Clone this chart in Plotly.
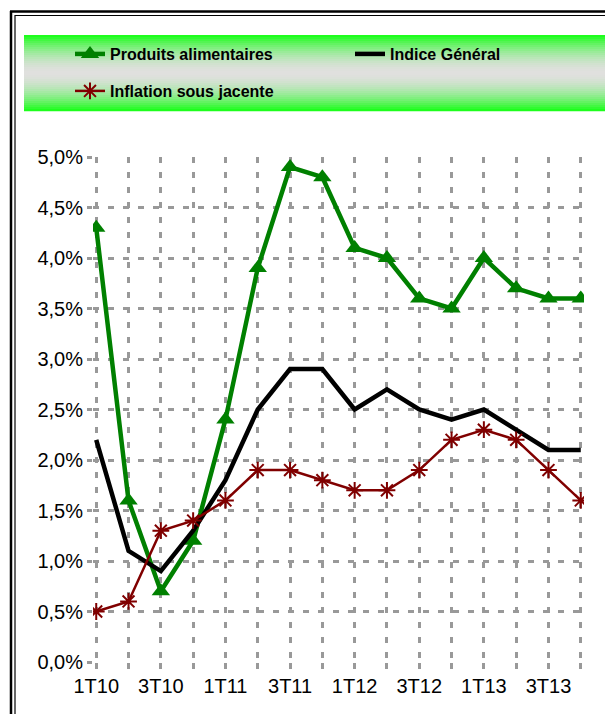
import plotly.graph_objects as go

categories = ["1T10", "2T10", "3T10", "4T10", "1T11", "2T11", "3T11", "4T11",
              "1T12", "2T12", "3T12", "4T12", "1T13", "2T13", "3T13", "4T13"]
tick_labels = ["1T10", "", "3T10", "", "1T11", "", "3T11", "",
               "1T12", "", "3T12", "", "1T13", "", "3T13", ""]
produits_alimentaires = [4.3, 1.6, 0.7, 1.2, 2.4, 3.9, 4.9, 4.8, 4.1, 4.0, 3.6, 3.5, 4.0, 3.7, 3.6, 3.6]
indice_general = [2.2, 1.1, 0.9, 1.3, 1.8, 2.5, 2.9, 2.9, 2.5, 2.7, 2.5, 2.4, 2.5, 2.3, 2.1, 2.1]
inflation_sous_jacente = [0.5, 0.6, 1.3, 1.4, 1.6, 1.9, 1.9, 1.8, 1.7, 1.7, 1.9, 2.2, 2.3, 2.2, 1.9, 1.6]
y_ticks = [0, 0.5, 1.0, 1.5, 2.0, 2.5, 3.0, 3.5, 4.0, 4.5, 5.0]
y_tick_labels = ["0,0%", "0,5%", "1,0%", "1,5%", "2,0%", "2,5%", "3,0%", "3,5%", "4,0%", "4,5%", "5,0%"]

# page body has an 8px margin: work in screen pixels, subtract offset
OFF = 8
W_FIG, H_FIG = 613, 714
L, R, T, B = 93 - OFF, 29 + OFF, 157 - OFF, 52 + OFF
PW = W_FIG - L - R
PH = H_FIG - T - B


def px(x):
    return (x - OFF - L) / PW


def py(y):
    return (H_FIG - B - (y - OFF)) / PH


xs = list(range(len(categories)))

fig = go.Figure()
fig.add_trace(go.Scatter(
    x=xs, y=produits_alimentaires, name="Produits alimentaires",
    mode="lines+markers", line=dict(color="#008000", width=4.5),
    marker=dict(symbol="triangle-up", size=16, color="#008000"),
    legend="legend",
))
fig.add_trace(go.Scatter(
    x=xs, y=indice_general, name="Indice Général",
    mode="lines", line=dict(color="#000000", width=4.5),
    legend="legend3",
))
fig.add_trace(go.Scatter(
    x=xs, y=inflation_sous_jacente, name="Inflation sous jacente",
    mode="lines+markers", line=dict(color="#800000", width=2.5),
    marker=dict(symbol="asterisk-open", size=14, line=dict(color="#800000", width=2)),
    legend="legend2",
))

shapes = []
# legend background gradient (green - light grey - green)
top, bot = 35, 111
n = 38
green = (20, 255, 20)
grey = (224, 224, 222)
mid = (top + bot) / 2
half = (bot - top) / 2
for i in range(n):
    y0 = top + (bot - top) * i / n
    y1 = top + (bot - top) * (i + 1) / n
    yc = (y0 + y1) / 2
    t = abs(yc - mid) / half
    t = t ** 1.8
    c = tuple(int(round(grey[k] * (1 - t) + green[k] * t)) for k in range(3))
    shapes.append(dict(type="rect", xref="paper", yref="paper",
                       x0=px(24), x1=px(640), y0=py(y1 + 0.3), y1=py(y0),
                       fillcolor="rgb(%d,%d,%d)" % c, line=dict(width=0), layer="below"))
# double frame
shapes += [
    dict(type="line", xref="paper", yref="paper", x0=px(11), x1=px(11), y0=py(11), y1=py(740),
         line=dict(color="black", width=2.5)),
    dict(type="line", xref="paper", yref="paper", x0=px(10), x1=px(640), y0=py(11.5), y1=py(11.5),
         line=dict(color="black", width=2.5)),
    dict(type="line", xref="paper", yref="paper", x0=px(15), x1=px(15), y0=py(15), y1=py(740),
         line=dict(color="black", width=1.2)),
    dict(type="line", xref="paper", yref="paper", x0=px(15), x1=px(640), y0=py(15.5), y1=py(15.5),
         line=dict(color="black", width=1.2)),
]

legend_font = dict(size=16, family="Liberation Sans, Arial, sans-serif", color="black", weight="bold")


def legend_at(x, y):
    return dict(
        orientation="h", x=px(x), y=py(y), xanchor="left", yanchor="top",
        bgcolor="rgba(0,0,0,0)", font=legend_font, itemwidth=30, tracegroupgap=0,
    )


grid = dict(showgrid=True, gridcolor="#999999", griddash="6px,9px", gridwidth=2.6,
            zeroline=False, showline=False, ticks="outside",
            tickcolor="#999999", tickwidth=2.6, tickfont=dict(size=20, color="black"))

fig.update_layout(
    width=W_FIG, height=H_FIG,
    margin=dict(l=L, r=R, t=T, b=B),
    paper_bgcolor="white", plot_bgcolor="white",
    font=dict(family="Liberation Sans, Arial, sans-serif", color="black"),
    shapes=shapes,
    showlegend=True,
    legend=legend_at(70, 37),
    legend3=legend_at(350, 37),
    legend2=legend_at(70, 74),
    xaxis=dict(range=[-0.1, 15.1], tickmode="array", tickvals=xs, ticktext=tick_labels,
               ticklen=6, **grid),
    yaxis=dict(range=[0, 5], tickmode="array", tickvals=y_ticks, ticktext=y_tick_labels,
               ticklen=5, **grid),
)

fig.write_html("out.html")
